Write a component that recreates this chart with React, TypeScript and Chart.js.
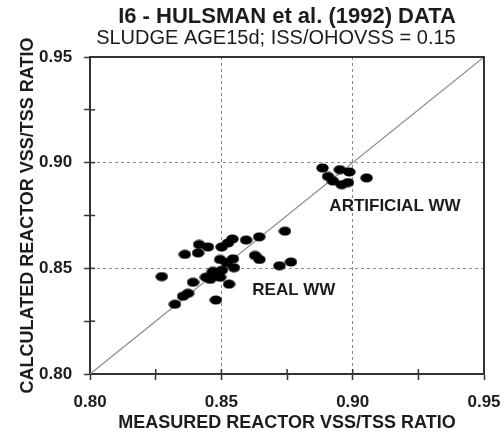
import React, { useEffect, useRef } from "react";
import { Chart, registerables } from "chart.js";

Chart.register(...registerables);

// ---- data ----
const realX = [
  0.8273, 0.8361, 0.8415, 0.8449, 0.8411, 0.8392, 0.8373, 0.8354, 0.8323, 0.8479,
  0.8441, 0.8464, 0.8487, 0.8457, 0.8495, 0.8468, 0.8529, 0.8495, 0.8501, 0.8525,
  0.8542, 0.8544, 0.8548, 0.852, 0.8594, 0.8644, 0.8628, 0.8645, 0.8742, 0.8721,
  0.8765, 0.8502,
];
const realY = [
  0.8461, 0.8566, 0.8613, 0.8601, 0.8573, 0.8434, 0.8382, 0.8368, 0.833, 0.835,
  0.8458, 0.8467, 0.8476, 0.8448, 0.8458, 0.8486, 0.8425, 0.8542, 0.8601, 0.862,
  0.8639, 0.8545, 0.8503, 0.8527, 0.8634, 0.8649, 0.8561, 0.8542, 0.8676, 0.8512,
  0.853, 0.8491,
];
const artX = [0.8885, 0.8906, 0.8925, 0.8951, 0.8987, 0.8958, 0.8982, 0.9053];
const artY = [0.8975, 0.8935, 0.8913, 0.8967, 0.8956, 0.8896, 0.8906, 0.8928];
const lineOfEquality = [0.8, 0.95];
const axisTickLabels = [0.8, 0.85, 0.9, 0.95];
const gridValues = [0.85, 0.9];

const TITLE = "I6 - HULSMAN et al. (1992) DATA";
const SUBTITLE = "SLUDGE AGE15d; ISS/OHOVSS = 0.15";
const X_TITLE = "MEASURED REACTOR VSS/TSS RATIO";
const Y_TITLE = "CALCULATED REACTOR VSS/TSS RATIO";
const groupLabels = ["REAL WW", "ARTIFICIAL WW"];
const groupLabelX = [0.8776, 0.9161];
const groupLabelY = [0.8396, 0.8792];

const FONT = "'Liberation Sans', Arial, Helvetica, sans-serif";
const INK = "#1c1c1c";

const near = (v: number, list: number[]) => list.some((t) => Math.abs(t - v) < 1e-6);

export default function App() {
  const ref = useRef<HTMLCanvasElement | null>(null);

  useEffect(() => {
    if (!ref.current) return;

    const dot = document.createElement("canvas");
    dot.width = 13;
    dot.height = 10;
    const dctx = dot.getContext("2d")!;
    dctx.fillStyle = "#000";
    dctx.beginPath();
    dctx.ellipse(6.5, 5, 6.2, 4.6, 0, 0, Math.PI * 2);
    dctx.fill();

    const decor = {
      id: "decor",
      afterDatasetsDraw(chart: any) {
        const { ctx, chartArea } = chart;
        const xs = chart.scales.x;
        const ys = chart.scales.y;
        ctx.save();
        ctx.strokeStyle = "#333";
        ctx.lineWidth = 2;
        ctx.beginPath();
        ctx.moveTo(chartArea.left, chartArea.top);
        ctx.lineTo(chartArea.right, chartArea.top);
        ctx.lineTo(chartArea.right, chartArea.bottom);
        ctx.stroke();
        ctx.lineWidth = 1.5;
        xs.ticks.forEach((t: any) => {
          const px = xs.getPixelForValue(t.value);
          if (near(t.value, [0.8, 0.95])) return;
          ctx.beginPath();
          ctx.moveTo(px, chartArea.bottom);
          ctx.lineTo(px, chartArea.bottom - 5);
          ctx.stroke();
        });
        ys.ticks.forEach((t: any) => {
          const py = ys.getPixelForValue(t.value);
          if (near(t.value, [0.8, 0.95])) return;
          ctx.beginPath();
          ctx.moveTo(chartArea.left, py);
          ctx.lineTo(chartArea.left + 5, py);
          ctx.stroke();
        });
        ctx.fillStyle = INK;
        ctx.font = `bold 17px ${FONT}`;
        ctx.textAlign = "center";
        ctx.textBaseline = "middle";
        groupLabels.forEach((s, i) => {
          ctx.fillText(s, xs.getPixelForValue(groupLabelX[i]), ys.getPixelForValue(groupLabelY[i]));
        });
        ctx.restore();
      },
    };

    const tickCb = (v: any) => (near(Number(v), axisTickLabels) ? Number(v).toFixed(2) : "");
    const gridColor = (c: any) => (c.tick && near(c.tick.value, gridValues) ? "#8a8a8a" : "rgba(0,0,0,0)");
    const tickFont = () => ({ family: FONT, size: 17, weight: 700 as any, lineHeight: 1.2 });

    const chart = new Chart(ref.current, {
      type: "scatter",
      data: {
        datasets: [
          {
            label: "ARTIFICIAL WW",
            data: artX.map((x, i) => ({ x, y: artY[i] })),
            pointStyle: dot as any,
            backgroundColor: "#000",
            borderColor: "#000",
          },
          {
            label: "REAL WW",
            data: realX.map((x, i) => ({ x, y: realY[i] })),
            pointStyle: dot as any,
            backgroundColor: "#000",
            borderColor: "#000",
          },
          {
            type: "line" as any,
            label: "1:1",
            data: lineOfEquality.map((v) => ({ x: v, y: v })),
            borderColor: "#8c8c8c",
            borderWidth: 1.2,
            pointRadius: 0,
            showLine: true,
            fill: false,
          },
        ],
      },
      options: {
        responsive: false,
        animation: false,
        layout: { padding: { left: 0, right: 20, top: 0, bottom: 0 } },
        plugins: {
          legend: { display: false },
          tooltip: { enabled: false },
          title: {
            display: true,
            text: TITLE,
            color: INK,
            font: { family: FONT, size: 22, weight: "bold", lineHeight: 1.2 },
            padding: { top: 4, bottom: -2 },
            fullSize: false,
          },
          subtitle: {
            display: true,
            text: SUBTITLE + "\u00a0\u00a0\u00a0\u00a0",
            color: INK,
            font: { family: FONT, size: 20, weight: "normal", lineHeight: 1.0 },
            padding: { top: 0, bottom: 8.6 },
            fullSize: false,
          },
        },
        scales: {
          x: {
            type: "linear",
            min: 0.8,
            max: 0.95,
            afterFit: (s: any) => {
              s.paddingRight = 0;
            },
            ticks: {
              stepSize: 0.025,
              autoSkip: false,
              maxRotation: 0,
              padding: 11.8,
              color: INK,
              font: tickFont as any,
              callback: tickCb,
            },
            grid: { color: gridColor, lineWidth: 1, tickLength: 6, tickColor: "#333", tickWidth: 1.5 },
            border: { display: true, color: "#333", width: 2, dash: [3, 3] },
            title: {
              display: true,
              text: X_TITLE,
              color: INK,
              font: { family: FONT, size: 18, weight: "bold", lineHeight: 1.2 },
              padding: { top: -11.6, bottom: 0 },
            },
          },
          y: {
            type: "linear",
            min: 0.8,
            max: 0.95,
            ticks: {
              stepSize: 0.025,
              autoSkip: false,
              padding: 12,
              color: INK,
              font: tickFont as any,
              callback: tickCb,
            },
            grid: { color: gridColor, lineWidth: 1, tickLength: 6, tickColor: "#333", tickWidth: 1.5 },
            border: { display: true, color: "#333", width: 2, dash: [3, 3] },
            title: {
              display: true,
              text: Y_TITLE,
              color: INK,
              font: { family: FONT, size: 18, weight: "bold", lineHeight: 1.2 },
              padding: { top: 17, bottom: -11.6 },
            },
          },
        },
      },
      plugins: [decor],
    });
    return () => chart.destroy();
  }, []);

  return (
    <div style={{ position: "fixed", left: 0, top: 0, width: 504, height: 434, background: "#fff" }}>
      <canvas ref={ref} width={504} height={434} />
    </div>
  );
}
